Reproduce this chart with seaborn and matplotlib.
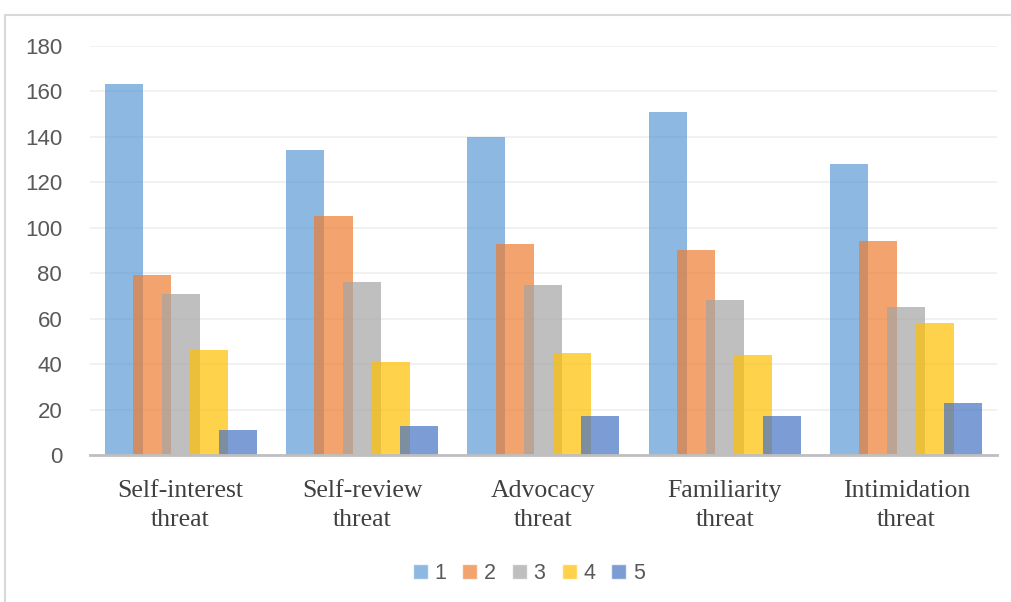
import pandas as pd
import seaborn as sns
import matplotlib.pyplot as plt
from matplotlib.patches import Patch, Rectangle

categories = ['Self-interest\nthreat', 'Self-review\nthreat', 'Advocacy\nthreat',
              'Familiarity\nthreat', 'Intimidation\nthreat']
levels = ['1', '2', '3', '4', '5']
s1 = [163, 134, 140, 151, 128]
s2 = [79, 105, 93, 90, 94]
s3 = [71, 76, 75, 68, 65]
s4 = [46, 41, 45, 44, 58]
s5 = [11, 13, 17, 17, 23]
colors = ['#5B9BD5', '#ED7D31', '#A5A5A5', '#FFC000', '#4472C4']

rows = []
for lvl, vals in zip(levels, [s1, s2, s3, s4, s5]):
    for cat, v in zip(categories, vals):
        rows.append({'category': cat, 'level': lvl, 'count': v})
df = pd.DataFrame(rows)

sns.set_style('white')
fig = plt.figure(figsize=(10.11, 6.02), dpi=100)
ax = fig.add_axes([0.089, 0.244, 0.897, 0.68])

sns.barplot(data=df, x='category', y='count', hue='level', order=categories,
            hue_order=levels, palette=colors, width=0.786, alpha=0.7,
            saturation=1, linewidth=0, legend=False, ax=ax)

# Excel-style overlap: widen each bar around its own centre
bar_w = 0.21
for cont in ax.containers:
    for p in cont:
        cx = p.get_x() + p.get_width() / 2
        p.set_width(bar_w)
        p.set_x(cx - bar_w / 2)

ax.set_xlim(-0.5, 4.5)
ax.set_ylim(0, 180)
ax.set_yticks(range(0, 181, 20))
ax.yaxis.grid(True, color='#EFEFEF', linewidth=1.2)
ax.set_axisbelow(True)
for side in ['top', 'right', 'left']:
    ax.spines[side].set_visible(False)
ax.spines['bottom'].set_color('#BFBFBF')
ax.spines['bottom'].set_linewidth(2)
ax.set_xlabel('')
ax.set_ylabel('')
ax.tick_params(axis='both', length=0)
ax.tick_params(axis='y', pad=20, labelsize=16, labelcolor='#595959')
ax.tick_params(axis='x', pad=18, labelcolor='#404040')
for t in ax.get_yticklabels():
    t.set_fontfamily('Liberation Sans')
for t in ax.get_xticklabels():
    t.set_fontfamily('Liberation Serif')
    t.set_fontsize(18.5)
    t.set_linespacing(1.4)

handles = [Patch(facecolor=c, alpha=0.7, label=l) for c, l in zip(colors, levels)]
fig.legend(handles=handles, loc='center', bbox_to_anchor=(0.523, 0.048), ncol=5,
           frameon=False, handlelength=0.7, handleheight=0.7, handletextpad=0.3,
           columnspacing=0.75, prop={'family': 'Liberation Sans', 'size': 15.5})
for t in fig.legends[0].get_texts():
    t.set_color('#595959')

# chart area border
fig.patches.append(Rectangle((0.005, -0.05), 1.1, 1.025, transform=fig.transFigure,
                             fill=False, edgecolor='#D9D9D9', linewidth=1.5))

fig.savefig('out.png', dpi=100)
